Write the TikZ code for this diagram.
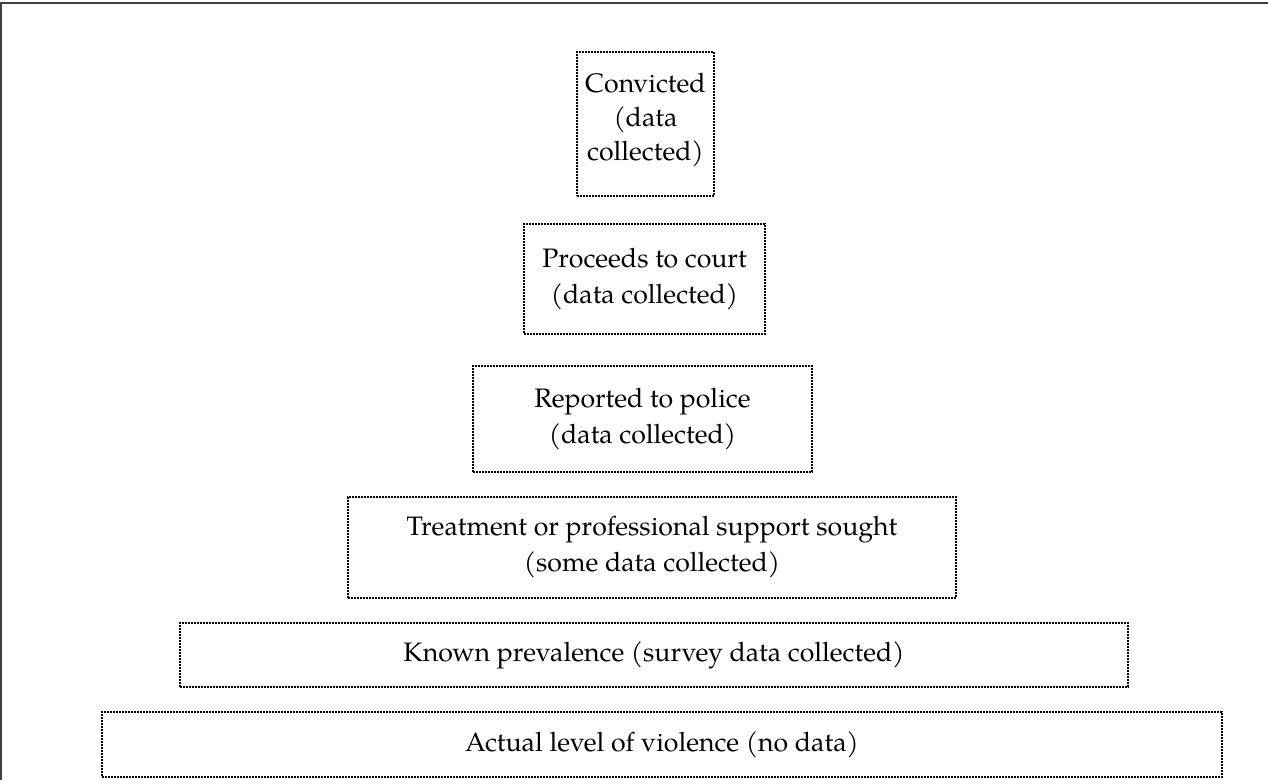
\documentclass[tikz,border=0pt]{standalone}
\usepackage{fontspec}
\setmainfont{TeX Gyre Pagella}
\begin{document}
\begin{tikzpicture}[x=1pt,y=-1pt,
  tier/.style={draw=black, line width=1.6pt, dash pattern=on 1.6pt off 1.4pt,
    inner sep=0pt, align=center, font=\fontsize{26.7}{36}\selectfont},
  tiertext/.style={inner sep=0pt, align=center, font=\fontsize{26.7}{34}\selectfont},
  frameline/.style={draw=black!75, line width=2pt}]
\useasboundingbox (0,0) rectangle (1268,780);
\draw[frameline] (1,780) -- (1,3) -- (1268,3);
\node[tier, minimum width=137pt, minimum height=144pt] (convicted) at (645.5,124) {};
\node[tiertext, yshift=4pt] (convictedtext) at (convicted.center) {Convicted\\(data\\collected)};
\node[tier, minimum width=241pt, minimum height=110pt] (court) at (644.5,279) {Proceeds to court\\(data collected)};
\node[tier, minimum width=339pt, minimum height=106pt] (police) at (642.5,419) {Reported to police\\(data collected)};
\node[tier, minimum width=608pt, minimum height=101pt] (treatment) at (652,547.5) {Treatment or professional support sought\\(some data collected)};
\node[tier, minimum width=948pt, minimum height=64pt] (known) at (654,655) {Known prevalence (survey data collected)};
\node[tier, minimum width=1120pt, minimum height=65pt] (actual) at (662,744.5) {Actual level of violence (no data)};
\end{tikzpicture}
\end{document}
